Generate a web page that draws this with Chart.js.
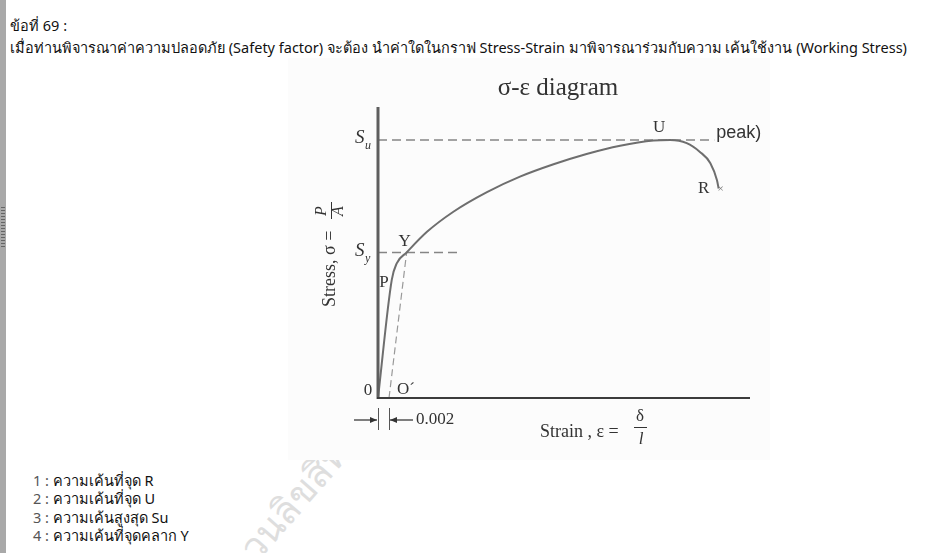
<!DOCTYPE html>
<html>
<head>
<meta charset="utf-8">
<script src="https://cdn.jsdelivr.net/npm/chart.js"></script>
<style>
  html, body { margin: 0; padding: 0; background: #fff; }
  body { width: 933px; height: 553px; position: relative; overflow: hidden; font-family: Tahoma, "Noto Sans", "DejaVu Sans", sans-serif; color: #111; }
  #sidebar { position: absolute; left: 0; top: 0; width: 6px; height: 553px; background: #a9a9a9; }
  #grip { position: absolute; left: 1px; top: 206px; width: 4px; height: 43px;
          background-image: radial-gradient(#666 45%, transparent 50%); background-size: 2px 3px; }
  #question { position: absolute; left: 10px; top: 14px; font-size: 14.5px; line-height: 22px; }
  #answers { position: absolute; left: 33px; top: 471px; font-size: 14.5px; line-height: 18.3px; }
  #answers .n { color: #555; }
  #watermark { position: absolute; left: 196px; top: 566px; font-size: 38px; color: #dedede;
               transform: rotate(-49deg); transform-origin: 0 0; white-space: nowrap; }
  #figure { position: absolute; left: 288px; top: 58px; width: 482px; height: 402px; background: #fcfcfc; }
  #chart { position: absolute; left: 0; top: 0; }
</style>
</head>
<body>
<div id="sidebar"><div id="grip"></div></div>
<div id="question">ข้อที่ 69 :<br>เมื่อท่านพิจารณาค่าความปลอดภัย (Safety factor) จะต้อง นำค่าใดในกราฟ Stress-Strain มาพิจารณาร่วมกับความ เค้นใช้งาน (Working Stress)</div>
<div id="watermark">สงวนลิขสิทธิ์</div>
<div id="answers">
  <div><span class="n">1 :</span> ความเค้นที่จุด R</div>
  <div><span class="n">2 :</span> ความเค้นที่จุด U</div>
  <div><span class="n">3 :</span> ความเค้นสูงสุด Su</div>
  <div><span class="n">4 :</span> ความเค้นที่จุดคลาก Y</div>
</div>
<div id="figure"><canvas id="chart" width="482" height="402"></canvas></div>
<script>
// stress-strain curve (strain, stress)
const strainValues = [0, 0.0025, 0.0034, 0.0052, 0.0089, 0.0137, 0.0198, 0.0258, 0.0319, 0.0379, 0.0440, 0.0501, 0.0531, 0.0561, 0.0585, 0.0604, 0.0616, 0.0619];
const stressValues = [0, 229, 261, 282, 322, 361, 399, 429, 453, 473, 489, 499, 500, 494, 477, 455, 422, 406];

// named levels / points
const ultimateStress = 500;   // Su
const yieldStress = 282;      // Sy
const yieldStrain = 0.0052;   // Y
const offsetStrain = 0.002;   // O'
const ultimateStrain = 0.0511; // U
const suLineEnd = 0.0611;
const syLineEnd = 0.0144;

const xMax = 0.0676;
const yMax = 564;

const SERIF = '"Liberation Serif", "DejaVu Serif", serif';

function toPoints(xs, ys) {
    return xs.map((x, i) => ({ x: x, y: ys[i] }));
}

const annotate = {
    id: 'annotate',
    afterDatasetsDraw(chart) {
        const { ctx, scales: { x, y } } = chart;
        const px = v => x.getPixelForValue(v);
        const py = v => y.getPixelForValue(v);
        const last = strainValues.length - 1;

        ctx.save();

        // axes
        ctx.strokeStyle = '#5e5e5e';
        ctx.lineWidth = 3;
        ctx.beginPath();
        ctx.moveTo(px(0), py(yMax));
        ctx.lineTo(px(0), py(0) + 1);
        ctx.stroke();
        ctx.strokeStyle = '#3c3c3c';
        ctx.lineWidth = 2;
        ctx.beginPath();
        ctx.moveTo(px(0) - 1, py(0));
        ctx.lineTo(px(xMax), py(0));
        ctx.stroke();

        // title
        ctx.fillStyle = '#333';
        ctx.textAlign = 'center';
        ctx.textBaseline = 'alphabetic';
        ctx.font = '25px ' + SERIF;
        ctx.fillText('σ-ε diagram', (px(0) + px(xMax)) / 2 - 6, py(yMax) - 12);

        // point labels
        ctx.textBaseline = 'middle';
        ctx.font = '17px ' + SERIF;
        ctx.fillText('U', px(ultimateStrain), py(ultimateStress) - 12);
        ctx.fillText('Y', px(yieldStrain) - 2, py(yieldStress) - 11);
        ctx.fillText('P', px(0) + 6, py(stressValues[1]) + 3);
        ctx.fillText('R', px(strainValues[last]) - 15, py(stressValues[last]));
        ctx.fillText('0', px(0) - 10, py(0) - 7);
        ctx.textAlign = 'left';
        ctx.fillText('O\u02CA', px(offsetStrain) + 8, py(0) - 8);

        ctx.font = '11px ' + SERIF;
        ctx.fillStyle = '#777';
        ctx.textAlign = 'center';
        ctx.fillText('×', px(strainValues[last]) + 2, py(stressValues[last]) + 1);

        ctx.fillStyle = '#333';
        ctx.textAlign = 'left';
        ctx.font = '18px "Liberation Sans", Arial, sans-serif';
        ctx.fillText('peak)', px(suLineEnd) + 2, py(ultimateStress) - 7);

        // Su, Sy
        const drawSub = (main, sub, cx, cy) => {
            ctx.textAlign = 'left';
            ctx.font = 'italic 19px ' + SERIF;
            ctx.fillText(main, cx - 8, cy - 2);
            ctx.font = 'italic 12px ' + SERIF;
            ctx.fillText(sub, cx + 2, cy + 6);
        };
        drawSub('S', 'u', px(0) - 15, py(ultimateStress));
        drawSub('S', 'y', px(0) - 15, py(yieldStress));

        // 0.002 dimension
        const dimY = py(0) + 22;
        ctx.strokeStyle = '#555';
        ctx.lineWidth = 1;
        [px(0), px(offsetStrain)].forEach(xx => {
            ctx.beginPath();
            ctx.moveTo(xx + 0.5, py(0) + 10);
            ctx.lineTo(xx + 0.5, py(0) + 32);
            ctx.stroke();
        });
        const arrow = (x1, x2) => {
            ctx.beginPath();
            ctx.moveTo(x1, dimY);
            ctx.lineTo(x2, dimY);
            ctx.stroke();
            const d = Math.sign(x2 - x1);
            ctx.beginPath();
            ctx.moveTo(x2, dimY);
            ctx.lineTo(x2 - d * 7, dimY - 3);
            ctx.lineTo(x2 - d * 7, dimY + 3);
            ctx.closePath();
            ctx.fillStyle = '#333';
            ctx.fill();
        };
        ctx.lineWidth = 1.5;
        arrow(px(0) - 24, px(0) - 1);
        arrow(px(offsetStrain) + 24, px(offsetStrain) + 1);
        ctx.fillStyle = '#333';
        ctx.font = '17px ' + SERIF;
        ctx.textAlign = 'left';
        ctx.fillText('0.002', px(offsetStrain) + 27, dimY);

        // x axis title
        const xt = py(0) + 34;
        ctx.font = '18px ' + SERIF;
        ctx.textAlign = 'left';
        ctx.fillText('Strain , ε =', 540 - 288, xt);
        ctx.textAlign = 'center';
        ctx.font = '17px ' + SERIF;
        ctx.fillText('δ', 640 - 288, xt - 15);
        ctx.font = 'italic 17px ' + SERIF;
        ctx.fillText('l', 641 - 288, xt + 8);
        ctx.strokeStyle = '#333';
        ctx.lineWidth = 1;
        ctx.beginPath();
        ctx.moveTo(634 - 288, xt - 4.5);
        ctx.lineTo(647 - 288, xt - 4.5);
        ctx.stroke();

        // y axis title
        ctx.save();
        ctx.translate(330 - 288, 307 - 58);
        ctx.rotate(-Math.PI / 2);
        ctx.textAlign = 'left';
        ctx.font = '18px ' + SERIF;
        ctx.fillText('Stress, σ =', 0, 0);
        ctx.textAlign = 'center';
        ctx.font = 'italic 16px ' + SERIF;
        ctx.fillText('P', 96, -8);
        ctx.fillText('A', 96, 9);
        ctx.beginPath();
        ctx.moveTo(88, 1.5);
        ctx.lineTo(105, 1.5);
        ctx.stroke();
        ctx.restore();

        ctx.restore();
    }
};

new Chart(document.getElementById('chart'), {
    type: 'line',
    data: {
        datasets: [
            {
                data: toPoints(strainValues, stressValues),
                borderColor: '#6e6e6e',
                borderWidth: 2,
                pointRadius: 0,
                cubicInterpolationMode: 'monotone',
                clip: false
            },
            {
                data: [{ x: 0, y: ultimateStress }, { x: suLineEnd, y: ultimateStress }],
                borderColor: '#858585',
                borderWidth: 1.3,
                borderDash: [9, 5],
                pointRadius: 0,
                clip: false
            },
            {
                data: [{ x: 0, y: yieldStress }, { x: syLineEnd, y: yieldStress }],
                borderColor: '#858585',
                borderWidth: 1.3,
                borderDash: [9, 5],
                pointRadius: 0,
                clip: false
            },
            {
                data: [{ x: offsetStrain, y: 0 }, { x: yieldStrain, y: yieldStress }],
                borderColor: '#999',
                borderWidth: 1.2,
                borderDash: [7, 4],
                pointRadius: 0,
                clip: false
            }
        ]
    },
    options: {
        responsive: false,
        animation: false,
        layout: { padding: { left: 90, top: 49, right: 20, bottom: 62 } },
        plugins: { legend: { display: false }, tooltip: { enabled: false } },
        scales: {
            x: { type: 'linear', min: 0, max: xMax, display: false },
            y: { type: 'linear', min: 0, max: yMax, display: false }
        }
    },
    plugins: [annotate]
});
</script>
</body>
</html>
